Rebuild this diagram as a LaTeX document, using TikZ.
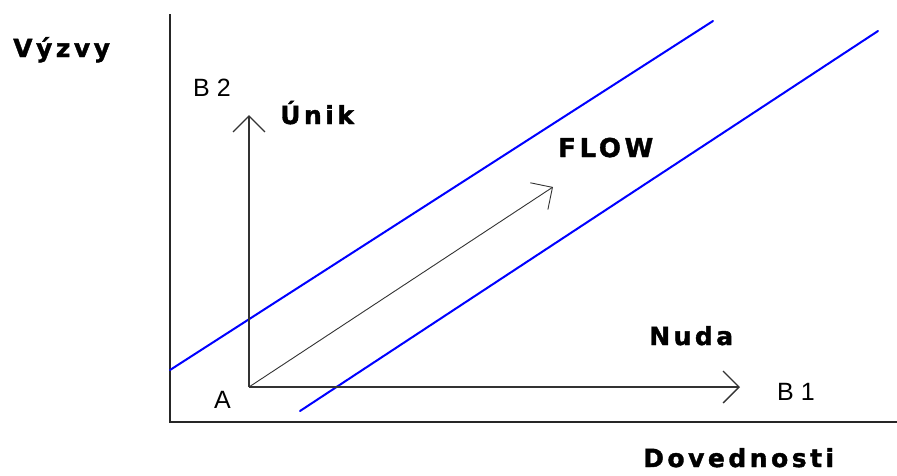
\documentclass[tikz,border=0pt]{standalone}
\usepackage{fontspec}
\setmainfont{Liberation Sans}
\newfontfamily\lblfont[LetterSpace=14,FakeBold=1.5]{DejaVu Sans}
\usetikzlibrary{arrows.meta}

\begin{document}
\begin{tikzpicture}[x=1pt,y=-1pt,
  axis/.style={draw=black!85,line width=2pt},
  vec/.style={draw=black!80,line width=1.3pt,
              -{Straight Barb[length=16pt,width=32pt]}},
  thinvec/.style={vec,line width=0.9pt},
  bound/.style={draw=blue,line width=2pt,line cap=round},
  heading/.style={font={\fontsize{25}{30}\selectfont\lblfont\bfseries},
                  anchor=base west,inner sep=0pt},
  plain/.style={font={\fontsize{25}{30}\selectfont},
                anchor=base west,inner sep=0pt}
]
\useasboundingbox (0,0) rectangle (897,475);

% axes of the chart
\coordinate (ytop) at (170,14);
\coordinate (corner) at (170,422);
\coordinate (xend) at (897,422);
\draw[axis] (ytop) -- (corner) -- (xend);

% channel borders
\coordinate (up1) at (170,370);
\coordinate (up2) at (713,21);
\coordinate (lo1) at (300,411);
\coordinate (lo2) at (878,31);
\draw[bound] (up1) -- (up2);
\draw[bound] (lo1) -- (lo2);

% vectors from A
\coordinate (A) at (249,387);
\coordinate (b2tip) at (249,115);
\coordinate (b1tip) at (740,387);
\coordinate (flowtip) at (553,187);
\draw[vec] (A) -- (b2tip);
\draw[vec] (A) -- (b1tip);
\draw[thinvec] (A) -- (flowtip);

% labels
\node[heading] (vyzvy) at (13,57) {Výzvy};
\node[heading] (dovednosti) at (643,467) {Dovednosti};
\node[heading] (unik) at (280,124) {Únik};
\node[heading,font={\fontsize{26}{30}\selectfont\lblfont\bfseries}] (flow) at (558,157) {FLOW};
\node[heading] (nuda) at (649,345) {Nuda};
\node[plain] (lblA) at (214,408) {A};
\node[plain] (lblB2) at (193,96) {B 2};
\node[plain] (lblB1) at (777,400) {B 1};
\end{tikzpicture}
\end{document}
